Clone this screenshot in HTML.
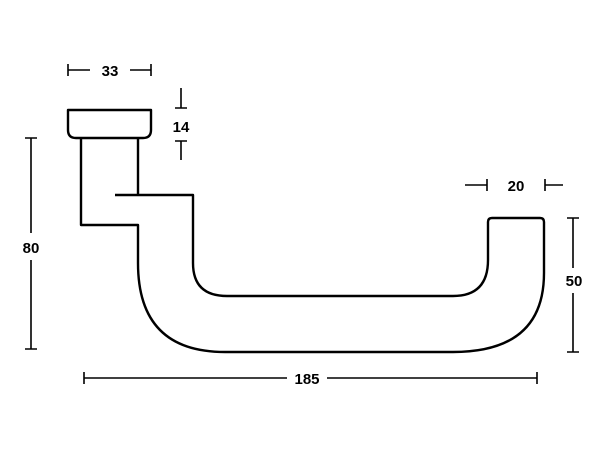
<!DOCTYPE html>
<html><head><style>body{margin:0;background:#fff}svg{display:block}</style></head><body>
<svg width="600" height="450" viewBox="0 0 600 450" xmlns="http://www.w3.org/2000/svg">
<g fill="none" stroke="#000" stroke-width="2.4" stroke-linejoin="round">
<path d="M68 110 H151 V130 Q151 138 143 138 H76 Q68 138 68 130 Z"/>
<path d="M81 138 V225 H138 V263 Q138 352 225 352 H453 Q544 352 544 273 V222 Q544 218 540 218 H492 Q488 218 488 222 V260 Q488 296 453 296 H227 Q193 296 193 263 V195 H115"/>
<path d="M138 138 V195"/>
</g>
<g stroke="#000" stroke-width="1.6" fill="#000">
<path d="M68 64 V76 M68 70 H90 M130 70 H151 M151 64 V76"/>
<path d="M181 88 V108 M175 108 H187 M175 141 H187 M181 141 V160"/>
<path d="M25 138 H37 M31 138 V233 M31 260 V349 M25 349 H37"/>
<path d="M567 218 H579 M573 218 V268 M573 293 V352 M567 352 H579"/>
<path d="M84 372 V384 M84 378 H287 M327 378 H537 M537 372 V384"/>
<path d="M465 185 H487 M487 179 V191 M545 179 V191 M545 185 H563"/>
</g>
<g font-family="Liberation Sans, sans-serif" font-size="15" font-weight="bold" text-anchor="middle" fill="#000">
<text x="110" y="76">33</text>
<text x="181" y="132">14</text>
<text x="31" y="253">80</text>
<text x="574" y="286">50</text>
<text x="307" y="384">185</text>
<text x="516" y="191">20</text>
</g>
</svg>
</body></html>
